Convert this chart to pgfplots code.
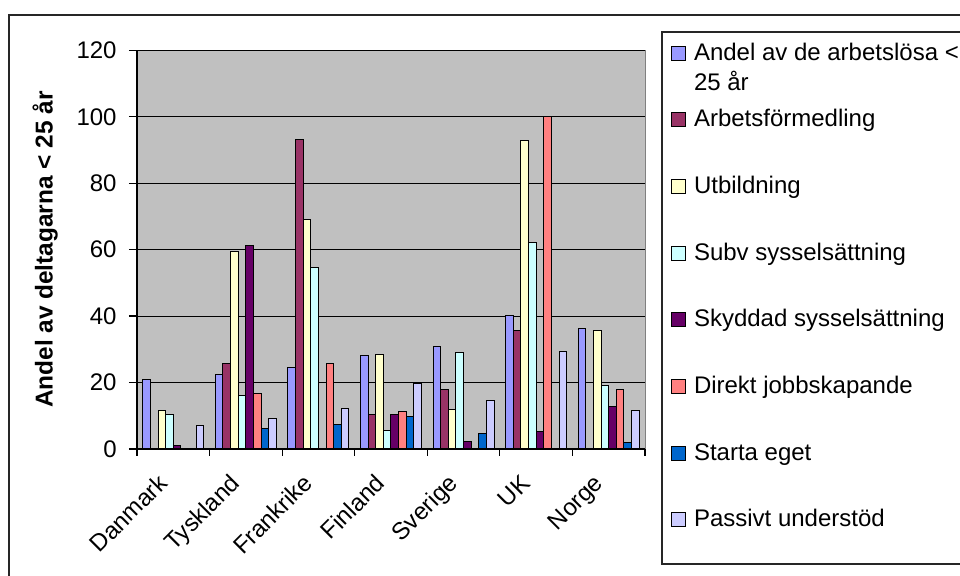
\documentclass[border=0pt]{standalone}
\usepackage{pgfplots}
\pgfplotsset{compat=1.18}
\usepackage{fontspec}
\setmainfont{Liberation Sans}
\definecolor{cA}{HTML}{9999FF}
\definecolor{cB}{HTML}{993366}
\definecolor{cC}{HTML}{FFFFCC}
\definecolor{cD}{HTML}{CCFFFF}
\definecolor{cE}{HTML}{660066}
\definecolor{cF}{HTML}{FF8080}
\definecolor{cG}{HTML}{0066CC}
\definecolor{cH}{HTML}{CCCCFF}
\definecolor{plotbg}{HTML}{C0C0C0}
\pgfplotsset{
  mybar/.style={fill=#1, draw=black, line width=0.5pt,
    legend image code/.code={\draw[##1, line width=0.5pt] (0pt,0pt) rectangle (7pt,7pt);}},
}
\newcommand{\hs}[1]{\rule{0pt}{#1}}
\begin{document}
\fontsize{12}{14.4}\selectfont
\begin{tikzpicture}
\fill[white] (0pt,0pt) rectangle (480pt,288pt);
% chart border
\draw[line width=0.6pt, black!85] (4.5pt,-20pt) -- (4.5pt,280.5pt) -- (500pt,280.5pt);
% legend frame
\draw[line width=0.6pt, black!85] (500pt,272pt) -- (331pt,272pt) -- (331pt,6pt) -- (500pt,6pt);
\begin{axis}[
  at={(68.5pt,63.5pt)}, anchor=south west,
  scale only axis, width=254pt, height=199.35pt,
  xmin=-0.5, xmax=6.5, ymin=0, ymax=120,
  axis background/.style={fill=plotbg, draw=gray},
  axis x line*=bottom, axis y line*=left,
  axis line style={black, line width=0.6pt},
  ytick={0,20,...,120},
  ymajorgrids, grid style={black, line width=0.5pt},
  xtick={0,...,6},
  xticklabels={Danmark,Tyskland,Frankrike,Finland,Sverige,UK,Norge},
  minor xtick={-0.5,0.5,...,6.5},
  major x tick style={draw=none},
  tick align=outside,
  major tick length=4pt, minor tick length=3.5pt,
  tick style={black, line width=0.6pt},
  /pgf/number format/assume math mode=true,
  yticklabel style={inner sep=0pt, xshift=-6pt},
  xticklabel style={xshift=-4.5pt, rotate=45, anchor=east, inner sep=0pt, text height=0.75em, text depth=0.2em},
  xticklabel shift=11.5pt,
  ylabel={Andel av deltagarna < 25 år},
  ylabel style={font=\fontsize{12.2}{14}\selectfont\bfseries, at={(axis description cs:-0.181,0.5)}, anchor=center},
  ybar=0pt, bar width=3.82pt,
  legend style={at={(axis description cs:1.0512,1.0208)}, anchor=north west,
    draw=none, fill=none, inner sep=0pt, outer sep=0pt, row sep=0pt, column sep=4pt,
    nodes={inner sep=0pt, text depth=3pt, anchor=base west},
    cells={anchor=base west}},
  legend cell align=left,
]
\addplot[mybar=cA] coordinates {(0,21.0)(1,22.4)(2,24.4)(3,28.0)(4,30.8)(5,40.2)(6,36.2)};
\addlegendentry{\hs{9pt}Andel av de arbetslösa <}
\addlegendimage{empty legend}
\addlegendentry{\hs{12pt}25 år}
\addplot[mybar=cB] coordinates {(1,25.7)(2,93.1)(3,10.4)(4,17.8)(5,35.6)};
\addlegendentry{\hs{15.35pt}Arbetsförmedling}
\addplot[mybar=cC] coordinates {(0,11.7)(1,59.4)(2,69.2)(3,28.5)(4,11.8)(5,92.7)(6,35.6)};
\addlegendentry{\hs{30.35pt}Utbildning}
\addplot[mybar=cD] coordinates {(0,10.4)(1,16.0)(2,54.7)(3,5.6)(4,29.0)(5,62.2)(6,19.2)};
\addlegendentry{\hs{30.35pt}Subv sysselsättning}
\addplot[mybar=cE] coordinates {(0,0.9)(1,61.2)(3,10.4)(4,2.4)(5,5.2)(6,12.7)};
\addlegendentry{\hs{30.35pt}Skyddad sysselsättning}
\addplot[mybar=cF] coordinates {(1,16.8)(2,25.7)(3,11.2)(5,100)(6,17.8)};
\addlegendentry{\hs{30.35pt}Direkt jobbskapande}
\addplot[mybar=cG] coordinates {(1,6.1)(2,7.5)(3,9.8)(4,4.8)(6,1.9)};
\addlegendentry{\hs{30.35pt}Starta eget}
\addplot[mybar=cH] coordinates {(0,7.0)(1,9.3)(2,12.2)(3,19.7)(4,14.6)(5,29.4)(6,11.7)};
\addlegendentry{\hs{30.35pt}Passivt understöd}
\end{axis}
\pgfresetboundingbox
\path[use as bounding box] (0pt,0pt) rectangle (480pt,288pt);
\end{tikzpicture}
\end{document}
